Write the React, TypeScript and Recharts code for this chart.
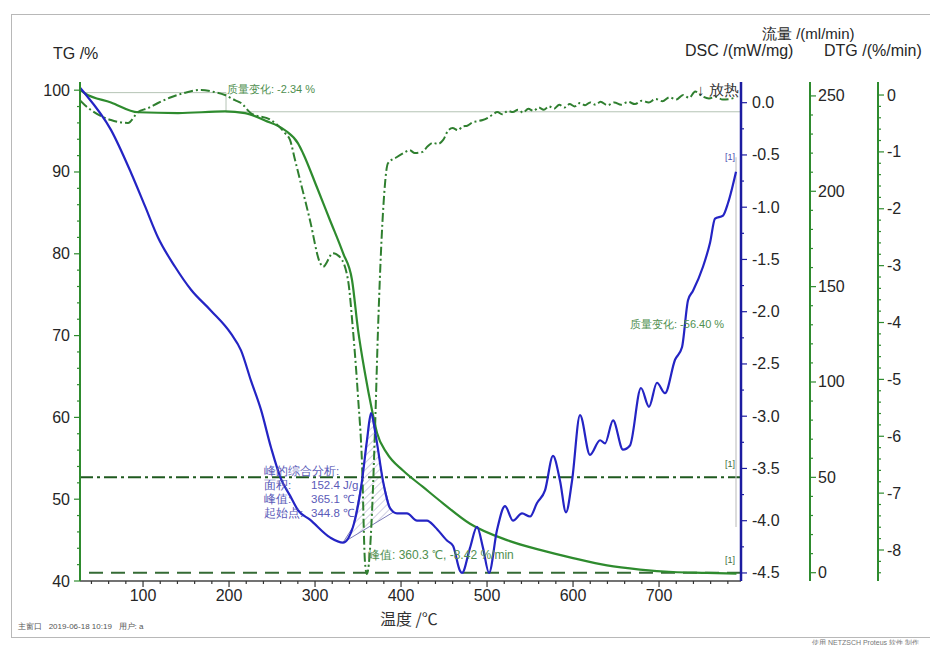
import { ComposedChart, Line, Area, XAxis, YAxis, ReferenceLine } from "recharts";

// temperature (°C) / value pairs
const tgTemp = [27, 32.5, 62.7, 94.1, 140.7, 195.3, 218.6, 241.8, 265.1, 280.2, 286, 302.3, 317.4, 332.5, 343, 350, 358.1, 366.2, 372.1, 383.7, 402.3, 425.5, 448.8, 480.2, 523.2, 561.6, 600, 639.5, 677.9, 716.2, 755.8, 790];
const tgValue = [100, 99.6, 98.5, 97.3, 97.2, 97.4, 97.2, 96.3, 95.1, 93.5, 92.3, 88.1, 84.1, 80.1, 76.8, 70.7, 65.4, 60.9, 58.1, 55.6, 53.5, 51.5, 49.5, 47.0, 45.0, 43.8, 42.8, 41.9, 41.4, 41.1, 41.0, 40.9];

const dscTemp = [27, 32.2, 62.7, 86, 102.3, 117.4, 137.2, 155.8, 179, 202.3, 213.9, 225.5, 237.2, 248.8, 260.4, 270.9, 280.2, 294.1, 317.4, 332.5, 344.1, 354.6, 360.4, 365.1, 370.9, 379, 387.2, 395.3, 406.9, 418.6, 430.2, 439.5, 453.4, 460.4, 468.6, 470.9, 480.2, 488.3, 495.3, 502.3, 511.6, 520.9, 530.2, 540.7, 550, 558.1, 567.4, 576.7, 584.9, 591.8, 598.8, 608.1, 619.7, 631.4, 637.2, 646.5, 658.1, 666.2, 679, 688.3, 697.6, 706.9, 718.6, 726.7, 733.7, 739.5, 751.1, 759.3, 765.1, 774.4, 780.2, 789.5];
const dscValue = [0.14, 0.09, -0.26, -0.67, -0.99, -1.29, -1.57, -1.79, -1.99, -2.21, -2.37, -2.66, -2.94, -3.3, -3.6, -3.76, -3.9, -3.99, -4.16, -4.21, -4.06, -3.62, -3.23, -2.97, -3.2, -3.62, -3.88, -3.93, -3.93, -4.0, -4.0, -4.06, -4.19, -4.24, -4.48, -4.5, -4.26, -4.06, -4.26, -4.5, -4.09, -3.86, -4.0, -3.93, -3.96, -3.83, -3.71, -3.38, -3.62, -3.92, -3.62, -2.99, -3.37, -3.23, -3.26, -3.04, -3.32, -3.28, -2.73, -2.91, -2.68, -2.78, -2.46, -2.34, -1.89, -1.8, -1.57, -1.34, -1.11, -1.08, -0.96, -0.66];

const dtgTemp = [27, 32.5, 62.7, 82.5, 94.1, 105.8, 117.4, 132.5, 148.8, 167.4, 183.7, 195.3, 206.9, 213.9, 225.5, 248.8, 265.1, 270.9, 276.7, 282.5, 294.1, 305.8, 309.3, 320.9, 329, 338.3, 344.1, 350, 354.6, 358.1, 360.3, 366.2, 369.7, 373.2, 379, 384.8, 395.3, 403, 410, 416, 425, 431, 437, 443, 449, 455, 460, 466, 472, 477, 483, 489, 495, 501, 507, 512, 518, 524, 530, 536, 542, 548, 554, 560, 566, 572, 578, 584, 590, 596, 602, 608, 614, 620, 626, 632, 640, 648, 656, 664, 672, 680, 688, 696, 704, 712, 720, 728, 735, 742, 750, 758, 766, 774, 782, 790];
const dtgValue = [-0.1, -0.18, -0.44, -0.49, -0.3, -0.23, -0.14, -0.04, 0.04, 0.09, 0.05, 0.0, -0.09, -0.14, -0.32, -0.44, -0.67, -0.79, -1.14, -1.49, -2.2, -2.95, -3.02, -2.78, -2.85, -3.25, -4.13, -5.31, -6.47, -8.22, -8.42, -7.35, -5.89, -4.13, -2.07, -1.2, -1.09, -1.02, -0.97, -1.02, -1.0, -0.9, -0.84, -0.86, -0.79, -0.62, -0.58, -0.62, -0.55, -0.54, -0.48, -0.46, -0.44, -0.4, -0.34, -0.3, -0.34, -0.28, -0.3, -0.26, -0.31, -0.24, -0.28, -0.22, -0.26, -0.2, -0.24, -0.17, -0.22, -0.16, -0.2, -0.14, -0.18, -0.13, -0.17, -0.12, -0.18, -0.13, -0.17, -0.12, -0.16, -0.1, -0.13, -0.07, -0.11, -0.04, -0.08, 0.0, -0.05, 0.06, -0.02, -0.06, -0.03, -0.08, -0.07, -0.04];

// peak integration: onset/end of baseline, DSC curve between them
const peakStart = { t: 332.5, v: -4.21 };
const peakEnd = { t: 390.7, v: -3.92 };
const peakTemp = [332.5, 344.1, 354.6, 360.4, 365.1, 370.9, 379, 387.2, 390.7];
const peakValue = [-4.21, -4.06, -3.62, -3.23, -2.97, -3.2, -3.62, -3.88, -3.92];

const purgeFlow = 50;
const protectFlow = 0;

const xMajor = [100, 200, 300, 400, 500, 600, 700];
const tgMajor = [40, 50, 60, 70, 80, 90, 100];
const dscMajor = [-4.5, -4, -3.5, -3, -2.5, -2, -1.5, -1, -0.5, 0];
const flowMajor = [0, 50, 100, 150, 200, 250];
const dtgMajor = [-8, -7, -6, -5, -4, -3, -2, -1, 0];

const steps = (from: number, to: number, step: number) =>
  Array.from({ length: Math.round((to - from) / step) + 1 }, (_, i) => +(from + i * step).toFixed(3));

const tgData = tgTemp.map((t, i) => ({ t, v: tgValue[i] }));
const dscData = dscTemp.map((t, i) => ({ t, v: dscValue[i] }));
const dtgData = dtgTemp.map((t, i) => ({ t, v: dtgValue[i] }));
const hatchData = peakTemp.map((t, i) => {
  const base = peakStart.v + ((t - peakStart.t) / (peakEnd.t - peakStart.t)) * (peakEnd.v - peakStart.v);
  return { t, range: [base, peakValue[i]] };
});

const GREEN = "#2e8b2e";
const DARK_GREEN = "#1f5a1f";
const BLUE = "#2424c4";
const AXIS_BLUE = "#1c1ca0";
const LABEL = "#262626";
const FONT = '"Liberation Sans", Arial, sans-serif';

// axis ids sort alphabetically, which sets the order of the right-hand axes
const DSC = "r1dsc";
const FLOW = "r2flow";
const DTG = "r3dtg";

const makeTick =
  (side: "left" | "right" | "bottom", majors: number[], color: string, fmt: (v: number) => string, offset: number) =>
  (p: any) => {
    const v = p.payload.value;
    const major = majors.some((m) => Math.abs(m - v) < 1e-6);
    const len = major ? 6 : 3;
    const { x, y } = p;
    if (side === "bottom") {
      return (
        <g>
          <line x1={x} x2={x} y1={y} y2={y + len} stroke="#333" strokeWidth={1.2} />
          {major && (
            <text x={x} y={y + offset} textAnchor="middle" fontSize={16} fill={LABEL} fontFamily={FONT}>
              {fmt(v)}
            </text>
          )}
        </g>
      );
    }
    const dir = side === "left" ? -1 : 1;
    return (
      <g>
        <line x1={x} x2={x + dir * len} y1={y} y2={y} stroke={color} strokeWidth={1.2} />
        {major && (
          <text
            x={x + dir * offset}
            y={y + 5.5}
            textAnchor={side === "left" ? "end" : "start"}
            fontSize={16}
            fill={LABEL}
            fontFamily={FONT}
          >
            {fmt(v)}
          </text>
        )}
      </g>
    );
  };

const Txt = ({ x, y, size, color = LABEL, family = FONT, children }: any) => (
  <div
    style={{
      position: "absolute",
      left: x,
      top: y,
      fontSize: size,
      color,
      fontFamily: family,
      lineHeight: 1,
      whiteSpace: "pre",
      pointerEvents: "none",
    }}
  >
    {children}
  </div>
);

const App = () => {
  return (
    <div style={{ position: "absolute", left: 0, top: 0, width: 930, height: 645, background: "#fff", overflow: "hidden" }}>
      <div style={{ position: "absolute", left: 11, top: 14, width: 940, height: 622, border: "1px solid #b8b8b8" }} />
      <div style={{ position: "absolute", left: 0, top: 0 }}>
        <ComposedChart width={930} height={645} margin={{ top: 82, right: 0, bottom: 34, left: 0 }}>
          <defs>
            <pattern id="hatch" patternUnits="userSpaceOnUse" width={5} height={5} patternTransform="rotate(45)">
              <line x1={0} y1={0} x2={0} y2={5} stroke="#8a8ab8" strokeWidth={0.8} />
            </pattern>
          </defs>
          <XAxis
            type="number"
            dataKey="t"
            domain={[26.7, 795.3]}
            allowDataOverflow
            ticks={steps(40, 780, 20)}
            interval={0}
            height={30}
            tickSize={0}
            tickMargin={0}
            tickLine={false}
            axisLine={{ stroke: "#444", strokeWidth: 1.5 }}
            tick={makeTick("bottom", xMajor, "#333", (v) => String(v), 20)}
          />
          <YAxis
            yAxisId="tg"
            orientation="left"
            type="number"
            width={80}
            domain={[40, 101]}
            allowDataOverflow
            ticks={steps(40, 100, 2)}
            interval={0}
            tickSize={0}
            tickMargin={0}
            tickLine={false}
            axisLine={{ stroke: GREEN, strokeWidth: 2 }}
            tick={makeTick("left", tgMajor, GREEN, (v) => String(v), 10)}
          />
          <YAxis
            yAxisId={DSC}
            orientation="right"
            type="number"
            width={69}
            domain={[-4.577, 0.198]}
            allowDataOverflow
            ticks={steps(-4.5, 0, 0.25)}
            interval={0}
            tickSize={0}
            tickMargin={0}
            tickLine={false}
            axisLine={{ stroke: AXIS_BLUE, strokeWidth: 2.5 }}
            tick={makeTick("right", dscMajor, AXIS_BLUE, (v) => v.toFixed(1), 11)}
          />
          <YAxis
            yAxisId={FLOW}
            orientation="right"
            type="number"
            width={68}
            domain={[-4.35, 257.3]}
            allowDataOverflow
            ticks={steps(0, 250, 10)}
            interval={0}
            tickSize={0}
            tickMargin={0}
            tickLine={false}
            axisLine={{ stroke: GREEN, strokeWidth: 2 }}
            tick={makeTick("right", flowMajor, GREEN, (v) => String(v), 8)}
          />
          <YAxis
            yAxisId={DTG}
            orientation="right"
            type="number"
            width={52}
            domain={[-8.545, 0.229]}
            allowDataOverflow
            ticks={steps(-8.4, 0, 0.2)}
            interval={0}
            tickSize={0}
            tickMargin={0}
            tickLine={false}
            axisLine={{ stroke: GREEN, strokeWidth: 2 }}
            tick={makeTick("right", dtgMajor, GREEN, (v) => String(v), 9)}
          />

          <ReferenceLine yAxisId={FLOW} y={purgeFlow} stroke={DARK_GREEN} strokeWidth={2} strokeDasharray="13 4 3 4" />
          <ReferenceLine yAxisId={FLOW} y={protectFlow} stroke="#356b35" strokeWidth={2} strokeDasharray="14 8" />

          <ReferenceLine yAxisId="tg" segment={[{ x: 30, y: 99.7 }, { x: 196.5, y: 99.7 }]} stroke="#b5c4b5" strokeWidth={1} />
          <ReferenceLine yAxisId="tg" segment={[{ x: 196.5, y: 99.7 }, { x: 196.5, y: 97.36 }]} stroke="#b5c4b5" strokeWidth={1} />
          <ReferenceLine yAxisId="tg" segment={[{ x: 196.5, y: 97.36 }, { x: 795, y: 97.36 }]} stroke="#b5c4b5" strokeWidth={1} />
          <ReferenceLine yAxisId="tg" segment={[{ x: 789.5, y: 91.8 }, { x: 789.5, y: 46.6 }]} stroke="#c4c4c4" strokeWidth={1.2} />

          <Area
            yAxisId={DSC}
            data={hatchData}
            dataKey="range"
            type="linear"
            stroke="#7a7ab8"
            strokeWidth={1}
            fill="url(#hatch)"
            fillOpacity={1}
            isAnimationActive={false}
          />

          <Line yAxisId="tg" data={tgData} dataKey="v" type="monotone" stroke={GREEN} strokeWidth={2.2} dot={false} isAnimationActive={false} />
          <Line
            yAxisId={DTG}
            data={dtgData}
            dataKey="v"
            type="monotone"
            stroke="#2f7f2f"
            strokeWidth={2}
            strokeDasharray="9 3 2 3"
            dot={false}
            isAnimationActive={false}
          />
          <Line yAxisId={DSC} data={dscData} dataKey="v" type="monotone" stroke={BLUE} strokeWidth={2.2} dot={false} isAnimationActive={false} />
        </ComposedChart>
      </div>

      <Txt x={53} y={46} size={16}>TG /%</Txt>
      <Txt x={762} y={26} size={15}>流量 /(ml/min)</Txt>
      <Txt x={685} y={43} size={16}>DSC /(mW/mg)</Txt>
      <Txt x={824} y={43} size={16}>DTG /(%/min)</Txt>
      <Txt x={697} y={82} size={15} color="#333">↓ 放热</Txt>

      <Txt x={227} y={84} size={11} color="#4f8f4f">质量变化: -2.34 %</Txt>
      <Txt x={630} y={319} size={11} color="#4f8f4f">质量变化: -56.40 %</Txt>
      <Txt x={368} y={549} size={12} color="#4f8f4f">峰值: 360.3 ℃, -8.42 %/min</Txt>

      <Txt x={264} y={466} size={11.5} color="#5a5ab8">峰的综合分析:</Txt>
      <Txt x={264} y={480} size={11.5} color="#5a5ab8">面积:</Txt>
      <Txt x={311} y={480} size={11.5} color="#5a5ab8">152.4 J/g</Txt>
      <Txt x={264} y={494} size={11.5} color="#5a5ab8">峰值:</Txt>
      <Txt x={311} y={494} size={11.5} color="#5a5ab8">365.1 ℃</Txt>
      <Txt x={264} y={508} size={11.5} color="#5a5ab8">起始点:</Txt>
      <Txt x={311} y={508} size={11.5} color="#5a5ab8">344.8 ℃</Txt>

      <Txt x={725} y={153} size={9} color="#4a4ab0">[1]</Txt>
      <Txt x={725} y={460} size={9} color="#3c6b3c">[1]</Txt>
      <Txt x={725} y={556} size={9} color="#3c6b3c">[1]</Txt>

      <Txt x={380} y={610} size={16} color="#333" family='"Noto Sans CJK SC", serif'>温度 /℃</Txt>
      <Txt x={18} y={623} size={8} color="#555">主窗口   2019-06-18 10:19   用户: a</Txt>
      <Txt x={812} y={639} size={7} color="#777">使用 NETZSCH Proteus 软件 制作</Txt>
    </div>
  );
};

export default App;
